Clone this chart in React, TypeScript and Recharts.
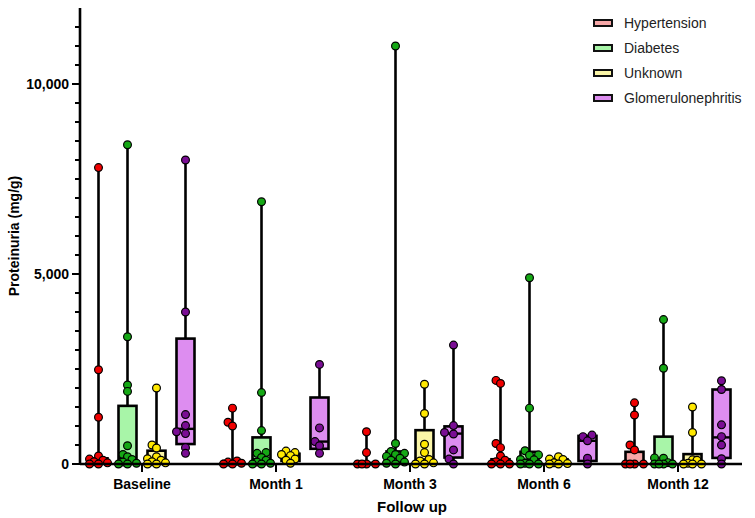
import React from 'react';
import { ComposedChart, Bar, XAxis, YAxis } from 'recharts';

const categories = ['Baseline', 'Month 1', 'Month 3', 'Month 6', 'Month 12'];

// individual patient values (mg/g), one list per follow-up visit
const hypertensionPts = [
  [7800, 2480, 1230, 210, 130, 100, 60, 30, 0, 0],
  [1470, 1100, 1000, 80, 50, 20, 0, 0],
  [850, 300, 0, 0, 0, 0],
  [2200, 2120, 540, 430, 210, 100, 60, 0, 0, 0],
  [1610, 1290, 500, 370, 0, 0, 0, 0],
];
const diabetesPts = [
  [8400, 3350, 2080, 1910, 480, 250, 190, 120, 50, 20, 0, 0],
  [6900, 1880, 880, 300, 280, 170, 100, 50, 20, 0, 0],
  [11000, 540, 330, 280, 250, 200, 150, 100, 50, 20, 0],
  [4900, 1470, 350, 240, 230, 120, 110, 20, 0, 0, 0],
  [3800, 2520, 160, 150, 35, 0, 0, 0, 0],
];
const unknownPts = [
  [2000, 500, 420, 190, 140, 100, 60, 30, 0, 0],
  [340, 300, 250, 220, 130, 100, 20],
  [2100, 1330, 520, 300, 120, 80, 30, 0, 0],
  [190, 130, 120, 30, 10, 0, 0],
  [1500, 830, 110, 100, 20, 0, 0, 0],
];
const glomerulonephritisPts = [
  [8000, 4000, 1300, 1010, 850, 800, 430, 280],
  [2620, 950, 590, 480, 280],
  [3130, 1010, 830, 790, 370, 130, 0],
  [760, 720, 610, 150, 0],
  [2190, 1960, 1030, 720, 500, 140, 0],
];

// [Q1, median, Q3] per visit
const hypertensionBox = [[10, 80, 150], [0, 30, 80], [0, 0, 30], [0, 90, 125], [0, 10, 320]];
const diabetesBox = [[30, 160, 1530], [10, 130, 700], [20, 150, 330], [0, 115, 320], [0, 20, 720]];
const unknownBox = [[40, 120, 350], [80, 220, 270], [15, 120, 890], [0, 30, 125], [0, 60, 260]];
const glomerulonephritisBox = [[525, 925, 3300], [400, 590, 1750], [170, 800, 990], [80, 610, 740], [160, 700, 1960]];

const yMajor = [0, 5000, 10000];
const yTicks = Array.from({ length: 24 }, (_, i) => i * 500);

const FONT = "'Liberation Sans', Arial, sans-serif";
const AXIS_X = 80;

const series = [
  { key: 'hyp', name: 'Hypertension', fill: '#F7A8A8', dot: '#F00000', pts: hypertensionPts, box: hypertensionBox },
  { key: 'dia', name: 'Diabetes', fill: '#A8F5A8', dot: '#15A815', pts: diabetesPts, box: diabetesBox },
  { key: 'unk', name: 'Unknown', fill: '#FBF6A8', dot: '#FFE800', pts: unknownPts, box: unknownBox },
  { key: 'glo', name: 'Glomerulonephritis', fill: '#DD8DF0', dot: '#7A0D94', pts: glomerulonephritisPts, box: glomerulonephritisBox },
];

const rows = categories.map((cat, i) => {
  const row: Record<string, unknown> = { cat };
  series.forEach(s => {
    const p = s.pts[i];
    row[s.key] = {
      min: Math.min(...p), max: Math.max(...p),
      q1: s.box[i][0], med: s.box[i][1], q3: s.box[i][2], pts: p,
    };
  });
  return row;
});

// compact beeswarm: dots may overlap a little, spread kept within the box
const swarm = (ys: number[]) => {
  const minDist = 5;
  const step = 4.5;
  const maxK = 2;
  const order = ys.map((_, i) => i).sort((a, b) => ys[b] - ys[a]);
  const placed: { x: number; y: number }[] = [];
  const out: number[] = new Array(ys.length).fill(0);
  for (const i of order) {
    let best = 0;
    let bestD = -1;
    for (let k = 0; k <= maxK * 2; k++) {
      const off = k === 0 ? 0 : (k % 2 ? -1 : 1) * Math.ceil(k / 2) * step;
      const d = placed.length ? Math.min(...placed.map(p => Math.hypot(p.x - off, p.y - ys[i]))) : 99;
      if (d >= minDist) { best = off; bestD = d; break; }
      if (d > bestD) { bestD = d; best = off; }
    }
    placed.push({ x: best, y: ys[i] });
    out[i] = best;
  }
  return out;
};

const BoxShape = (props: any) => {
  const { x, y, width, height, payload, sKey, fill, dot } = props;
  const st = payload[sKey];
  const top = Math.min(y, y + height);
  const bottom = Math.max(y, y + height);
  const span = st.max - st.min || 1;
  const py = (v: number) => bottom - ((v - st.min) / span) * (bottom - top);
  const cx = x + width / 2;
  const bw = 18;
  const ys = st.pts.map(py);
  const offs = swarm(ys);
  return (
    <g>
      <line x1={cx} x2={cx} y1={py(st.max)} y2={py(st.min)} stroke="#000" strokeWidth={2.6} />
      <rect x={cx - bw / 2} y={py(st.q3)} width={bw} height={Math.max(py(st.q1) - py(st.q3), 0.5)}
        fill={fill} stroke="#000" strokeWidth={2.6} />
      <line x1={cx - bw / 2} x2={cx + bw / 2} y1={py(st.med)} y2={py(st.med)} stroke="#000" strokeWidth={2.4} />
      {ys.map((yy: number, i: number) => (
        <circle key={i} cx={cx + offs[i]} cy={yy} r={3.9} fill={dot} stroke="#000" strokeWidth={1.2} />
      ))}
    </g>
  );
};

const YTick = ({ y, payload }: any) => {
  const major = yMajor.includes(payload.value);
  return (
    <g>
      <line x1={AXIS_X - (major ? 8 : 5)} x2={AXIS_X} y1={y} y2={y} stroke="#000" strokeWidth={2} />
      {major && (
        <text x={AXIS_X - 11} y={y} dy={5} textAnchor="end" fontSize={14} fontWeight="bold" fontFamily={FONT} fill="#000">
          {payload.value.toLocaleString('en-US')}
        </text>
      )}
    </g>
  );
};

const XTick = ({ x, payload }: any) => (
  <text x={x} y={489} textAnchor="middle" fontSize={14} fontWeight="bold" fontFamily={FONT} fill="#000">
    {payload.value}
  </text>
);

const XLabel = ({ viewBox }: any) => (
  <text x={viewBox.x + viewBox.width / 2 + 2} y={512} textAnchor="middle" fontSize={15} fontWeight="bold" fontFamily={FONT} fill="#000">
    Follow up
  </text>
);

const YLabel = ({ viewBox }: any) => {
  const cy = viewBox.y + viewBox.height / 2;
  return (
    <text x={14} y={cy} dy={5} transform={`rotate(-90, 14, ${cy})`} textAnchor="middle" fontSize={14} fontWeight="bold" fontFamily={FONT} fill="#000">
      Proteinuria (mg/g)
    </text>
  );
};

export default function App() {
  return (
    <div style={{ position: 'absolute', left: 0, top: 0, width: 755, height: 518, background: '#fff' }}>
      <ComposedChart width={755} height={518} data={rows} margin={{ top: 8, right: 10, left: 0, bottom: 0 }}
        barGap={0} barSize={29}>
        <XAxis dataKey="cat" height={54} interval={0} tickSize={8}
          tickLine={{ stroke: '#000', strokeWidth: 2 }}
          axisLine={{ stroke: '#000', strokeWidth: 2.6, strokeDasharray: '0 5 662 40' }}
          tick={<XTick />} label={<XLabel />} />
        <YAxis width={75} domain={[0, 12000]} ticks={yTicks} interval={0} tickLine={false}
          axisLine={{ stroke: '#000', strokeWidth: 2.6, transform: 'translate(5 0)' }}
          tick={<YTick />} label={<YLabel />} />
        {series.map(s => (
          <Bar key={s.key} name={s.name} dataKey={(r: any) => [r[s.key].min, r[s.key].max]}
            isAnimationActive={false}
            shape={(p: any) => <BoxShape {...p} sKey={s.key} fill={s.fill} dot={s.dot} />} />
        ))}
      </ComposedChart>
      <div style={{ position: 'absolute', left: 593, top: 10, fontFamily: FONT, fontSize: 14, color: '#222' }}>
        {series.map(s => (
          <div key={s.key} style={{ display: 'flex', alignItems: 'center', height: 25 }}>
            <span style={{ display: 'inline-block', width: 16, height: 4, background: s.fill, border: '2px solid #111', marginRight: 11 }} />
            <span>{s.name}</span>
          </div>
        ))}
      </div>
    </div>
  );
}
